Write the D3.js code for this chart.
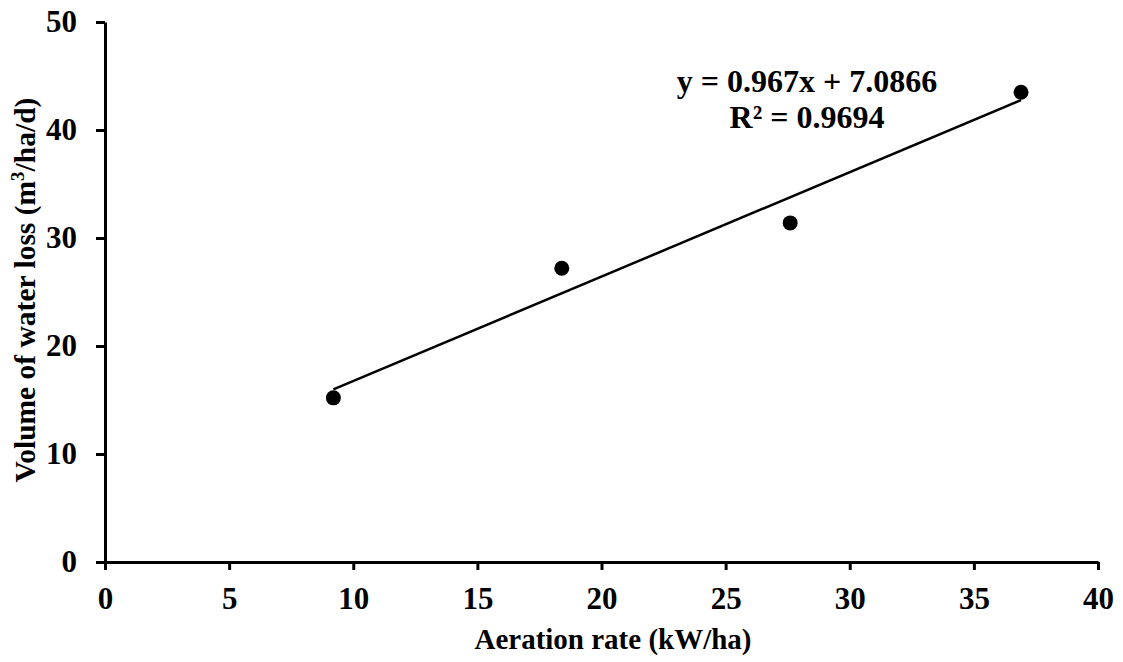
<!DOCTYPE html>
<html><head><meta charset="utf-8">
<script src="https://cdn.jsdelivr.net/npm/d3@7"></script>
<style>body{margin:0;background:#fff}svg{display:block}text{font-family:"Liberation Serif","Times New Roman",serif;font-weight:bold;fill:#000}</style>
</head><body>
<script>
const aerationRate = [9.2, 18.4, 27.6, 36.9];
const waterLoss = [15.2, 27.2, 31.4, 43.5];
const xTicks = [0, 5, 10, 15, 20, 25, 30, 35, 40];
const yTicks = [0, 10, 20, 30, 40, 50];
const slope = 0.967, intercept = 7.0866;
const eqText = "y = 0.967x + 7.0866";
const r2Value = "0.9694";

const W = 1123, H = 662;
const svg = d3.select("body").append("svg").attr("width", W).attr("height", H);
const x = d3.scaleLinear().domain([0, 40]).range([105, 1098]);
const y = d3.scaleLinear().domain([0, 50]).range([562, 22]);

const xAxis = svg.append("g").attr("transform", `translate(0,${y(0)})`)
  .call(d3.axisBottom(x).tickValues(xTicks).tickSize(8).tickSizeOuter(0).tickPadding(17));
const yAxis = svg.append("g").attr("transform", `translate(${x(0)},0)`)
  .call(d3.axisLeft(y).tickValues(yTicks).tickSize(9).tickSizeOuter(0).tickPadding(19));
[xAxis, yAxis].forEach(g => {
  g.select(".domain").attr("stroke", "#000").attr("stroke-width", 3);
  g.selectAll(".tick line").attr("stroke", "#000").attr("stroke-width", 3);
  g.selectAll(".tick text").style("font-size", "31px").style("font-family", "'Liberation Serif',serif").style("font-weight", "bold").attr("fill", "#000");
});

// trendline
const x0 = d3.min(aerationRate), x1 = d3.max(aerationRate);
svg.append("line")
  .attr("x1", x(x0)).attr("y1", y(slope * x0 + intercept))
  .attr("x2", x(x1)).attr("y2", y(slope * x1 + intercept))
  .attr("stroke", "#000").attr("stroke-width", 2.5);

svg.selectAll("circle.pt").data(aerationRate.map((d, i) => [d, waterLoss[i]]))
  .enter().append("circle").attr("class", "pt")
  .attr("cx", d => x(d[0])).attr("cy", d => y(d[1])).attr("r", 7.5).attr("fill", "#000");

// equation
svg.append("text").attr("x", 807).attr("y", 92).attr("text-anchor", "middle")
  .style("font-size", "32px").text(eqText);
svg.append("text").attr("x", 807).attr("y", 128).attr("text-anchor", "middle")
  .style("font-size", "32px").text("R² = " + r2Value);

// axis titles
svg.append("text").attr("x", 613).attr("y", 649).attr("text-anchor", "middle")
  .style("font-size", "29px").text("Aeration rate (kW/ha)");
const yt = svg.append("text").attr("transform", "translate(35,290) rotate(-90)").attr("text-anchor", "middle")
  .style("font-size", "29.5px");
yt.append("tspan").text("Volume of water loss (m");
yt.append("tspan").text("3").style("font-size", "19px").attr("dy", "-11");
yt.append("tspan").text("/ha/d)").attr("dy", "11");
</script>
</body></html>
